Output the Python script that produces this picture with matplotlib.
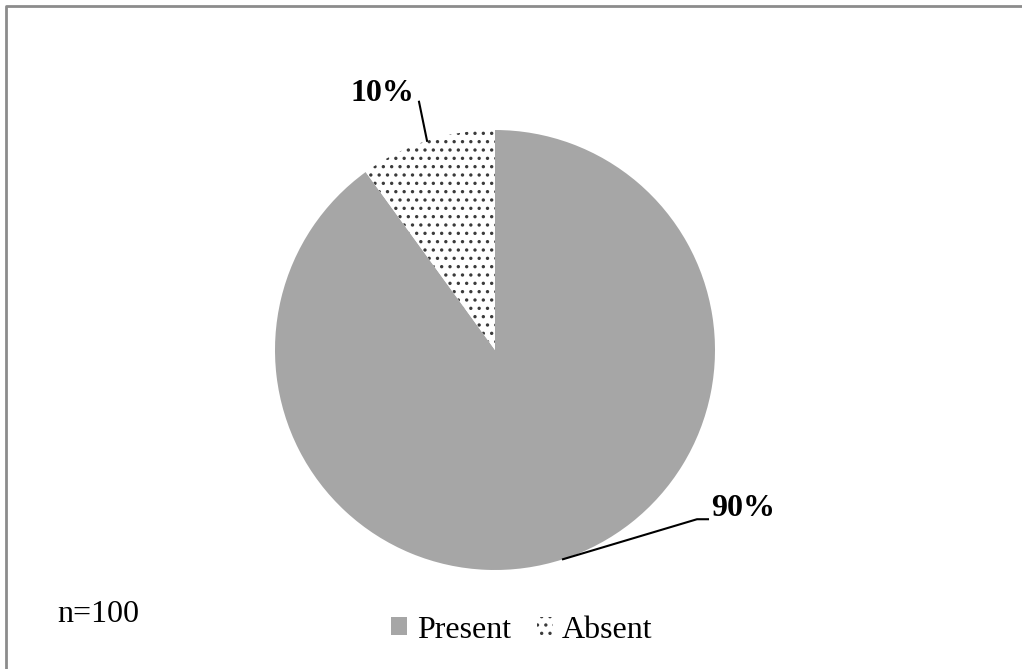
import numpy as np
import matplotlib
matplotlib.use('Agg')
import matplotlib.pyplot as plt

# data
labels = ['Present', 'Absent']
shares = [90, 10]
sample_note = 'n=100'

W, H = 1022, 669
CX, CY, R = 495, H - 350, 220

plt.rcParams['font.family'] = ['Liberation Serif', 'DejaVu Serif']
plt.rcParams['hatch.linewidth'] = 1.2
plt.rcParams['hatch.color'] = '#3a3a3a'

fig = plt.figure(figsize=(W / 100, H / 100), dpi=100)
ax = fig.add_axes([0, 0, 1, 1])

wedges, _ = ax.pie(shares, colors=['#a6a6a6', 'white'], startangle=90,
                   counterclock=False, center=(CX, CY), radius=R,
                   wedgeprops=dict(linewidth=0), frame=True)
wedges[1].set_hatch('..')
wedges[1].set_edgecolor('#3a3a3a')
wedges[1].set_linewidth(0)
ax.set_xlim(0, W)
ax.set_ylim(0, H)
ax.axis('off')

# leader lines and percentage labels
for w, s in zip(wedges, shares):
    mid = np.deg2rad((w.theta1 + w.theta2) / 2)
    px, py = CX + R * np.cos(mid), CY + R * np.sin(mid)
    if py > CY:
        ex, ey = px - 8, py + 39
        ax.plot([px, ex], [py, ey], color='black', lw=1.5)
        ax.text(ex - 5, ey + 8, f'{s}%', ha='right', va='center',
                fontsize=23, fontweight='bold')
    else:
        ex, ey = px + 134, py + 40
        ax.plot([px, ex, ex + 11], [py, ey, ey], color='black', lw=1.5)
        ax.text(ex + 14, ey + 11, f'{s}%', ha='left', va='center',
                fontsize=23, fontweight='bold')

ax.text(57, H - 615, sample_note, ha='left', va='center', fontsize=23)

leg = ax.legend(wedges, labels, loc='center', bbox_to_anchor=(522 / W, 1 - 630 / H),
                ncol=2, frameon=False, fontsize=23, handlelength=0.5,
                handleheight=0.5, handletextpad=0.3, columnspacing=0.8)

# partial chart border (top and left)
ax.plot([6, 6, W], [0, H - 6, H - 6], color='#8c8c8c', lw=2.0, clip_on=False)

fig.savefig('out.png', dpi=100)
